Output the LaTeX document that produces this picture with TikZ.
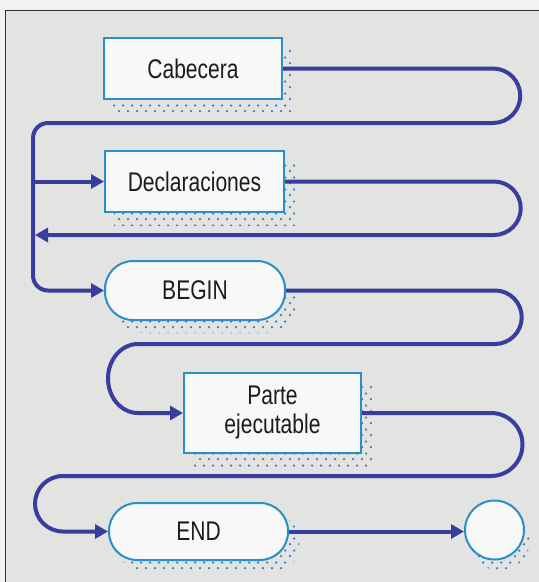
\documentclass[tikz,border=0pt]{standalone}
\usepackage{fontspec}
\setmainfont[FakeStretch=0.78]{Liberation Sans}
\usetikzlibrary{arrows.meta,backgrounds,patterns.meta}
\definecolor{bggray}{HTML}{E3E3E1}
\definecolor{paper}{HTML}{F2F2F0}
\definecolor{boxblue}{HTML}{2A8FC8}
\definecolor{linkblue}{HTML}{383E9E}
\definecolor{dotblue}{HTML}{2F7EC4}
\definecolor{boxfill}{HTML}{F8F8F8}
\definecolor{txt}{HTML}{1C1C1C}
\tikzdeclarepattern{
  name=stip,
  type=uncolored,
  bottom left={(0pt,0pt)},
  top right={(9pt,12pt)},
  tile size={(9pt,12pt)},
  code={
    \pgfpathcircle{\pgfpoint{2.25pt}{3pt}}{1.35pt}
    \pgfpathcircle{\pgfpoint{6.75pt}{9pt}}{1.35pt}
    \pgfusepath{fill}
  }
}
\tikzset{
  stepbox/.style={draw=boxblue, line width=2pt, fill=boxfill, text=txt,
    font=\fontsize{27}{29}\selectfont, align=center, inner sep=0pt},
  pill/.style={stepbox, rounded corners=28pt},
  conn/.style={draw=linkblue, line width=4pt, line join=round},
  tip/.style={-{Triangle[length=13pt,width=14pt]}},
  shade/.style={pattern=stip, pattern color=dotblue}
}
\begin{document}
\begin{tikzpicture}[x=1pt,y=-1pt]
\useasboundingbox (0,0) rectangle (539,582);
% nodes
\node[stepbox, minimum width=178pt, minimum height=61pt] (cab) at (193,68.5) {Cabecera};
\node[stepbox, minimum width=179pt, minimum height=61pt] (dec) at (194.5,181.5) {Declaraciones};
\node[pill, minimum width=180pt, minimum height=59pt] (begin) at (195,290.5) {BEGIN};
\node[stepbox, minimum width=177pt, minimum height=80pt] (parte) at (272.5,413) {Parte\\ejecutable};
\node[pill, minimum width=179pt, minimum height=57pt] (end) at (198.5,531.5) {END};
\node[draw=boxblue, line width=2pt, fill=boxfill, circle, minimum size=59pt, inner sep=0pt] (circ) at (494.5,530) {};
% background and shadows
\begin{scope}[on background layer]
  \fill[paper] (0,0) rectangle (539,582);
  \fill[bggray] (5,10) rectangle (539,582);
  \draw[black!80, line width=1pt] (5,582) -- (5,10) -- (539,10);
  \fill[shade] ([shift={(10,12)}]cab.south west) rectangle ([shift={(10,12)}]cab.north east);
  \fill[shade] ([shift={(10,12)}]dec.south west) rectangle ([shift={(10,12)}]dec.north east);
  \fill[shade, rounded corners=28pt] ([shift={(10,12)}]begin.south west) rectangle ([shift={(10,12)}]begin.north east);
  \fill[shade] ([shift={(10,12)}]parte.south west) rectangle ([shift={(10,12)}]parte.north east);
  \fill[shade, rounded corners=27pt] ([shift={(10,12)}]end.south west) rectangle ([shift={(10,12)}]end.north east);
  \fill[shade] ([shift={(5,10)}]circ.center) circle (30.5pt);
\end{scope}
% connectors
\coordinate (vl1) at (33,181.5);
\coordinate (vl2) at (35,235);
\draw[conn, tip] (cab.east) -- (493,68.5) arc[start angle=-90, end angle=90, radius=27.25]
  [rounded corners=15pt] -- (33,123) -- (33,290.5) -- (begin.west);
\draw[conn, tip] (vl1) -- (dec.west);
\draw[conn, tip] (dec.east) -- (494,181.5) arc[start angle=-90, end angle=90, radius=26.75] -- (vl2);
\draw[conn, tip] (begin.east) -- (495,290.5) arc[start angle=-90, end angle=90, radius=26.75]
  -- (138,344) arc[start angle=-90, end angle=-270, x radius=30, y radius=34.5] -- (parte.west);
\draw[conn, tip] (parte.east) -- (491,413) arc[start angle=-90, end angle=90, radius=31.5]
  -- (63,476) arc[start angle=-90, end angle=-270, x radius=28, y radius=27.75] -- (end.west);
\draw[conn, tip] (end.east) -- (end.east -| circ.west);
\end{tikzpicture}
\end{document}
